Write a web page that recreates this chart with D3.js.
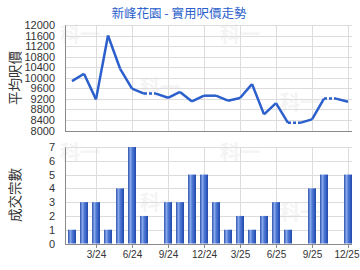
<!DOCTYPE html>
<html>
<head>
<meta charset="utf-8">
<script src="https://cdnjs.cloudflare.com/ajax/libs/d3/7.8.5/d3.min.js"></script>
<style>
  html, body { margin: 0; padding: 0; background: #fff; }
  svg { display: block; font-family: "Liberation Sans", Arial, sans-serif; }
</style>
</head>
<body>
<div id="chart"></div>
<script>
// ─── data ────────────────────────────────────────────────────────────────
const months = ["1/24","2/24","3/24","4/24","5/24","6/24","7/24","8/24","9/24","10/24","11/24","12/24",
                "1/25","2/25","3/25","4/25","5/25","6/25","7/25","8/25","9/25","10/25","11/25","12/25"];
// average price per sq ft (null = no deal that month)
const prices = [9870, 10150, 9180, 11600, 10350, 9590, 9400, null, 9240, 9460, 9100, 9320,
                9320, 9130, 9230, 9760, 8610, 9040, 8290, null, 8420, 9210, null, 9090];
const deals = [1, 3, 3, 1, 4, 7, 2, 0, 3, 3, 5, 5, 3, 1, 2, 1, 2, 3, 1, 0, 4, 5, 0, 5];
const tickMonths = ["3/24","6/24","9/24","12/24","3/25","6/25","9/25","12/25"];
const priceTicks = d3.range(8000, 12001, 400);
const dealTicks = d3.range(0, 8);

const W = 360, H = 270;
const LINE_BLUE = "#2b5fcc";
const GRID = "#dcdcdc";
const AXIS = "#8a8a8a";

const svg = d3.select("#chart").append("svg")
    .attr("width", W).attr("height", H);

const defs = svg.append("defs");
const grad = defs.append("linearGradient").attr("id", "barGrad")
    .attr("x1", "0").attr("x2", "1").attr("y1", "0").attr("y2", "0");
grad.append("stop").attr("offset", "0%").attr("stop-color", "#2a52b0");
grad.append("stop").attr("offset", "30%").attr("stop-color", "#8aa8e8");
grad.append("stop").attr("offset", "55%").attr("stop-color", "#4d78d6");
grad.append("stop").attr("offset", "100%").attr("stop-color", "#1f48a8");

const x = d3.scalePoint().domain(months).range([72, 348]);
const left = 65, right = 352;

// faint watermarks
[[80, 42], [240, 42], [80, 160], [240, 160], [160, 95], [160, 210], [300, 110], [300, 220]].forEach(([wx, wy]) => {
    svg.append("text").attr("x", wx).attr("y", wy)
        .attr("font-size", 20).attr("font-weight", "bold")
        .attr("font-family", "'Noto Sans CJK TC', sans-serif")
        .attr("fill", "#f4f4f4").attr("text-anchor", "middle").text("科一");
});

// title
svg.append("text").attr("x", 179).attr("y", 18)
    .attr("text-anchor", "middle").attr("font-size", 12.5)
    .attr("font-family", "'Noto Sans CJK TC', sans-serif")
    .attr("fill", "#2b5fcc").text("新峰花園 - 實用呎價走勢");

// ─── top: price line ────────────────────────────────────────────────────
const yP = d3.scaleLinear().domain([8000, 12000]).range([130.5, 25]);
const upper = svg.append("g");

upper.selectAll(".hgrid").data(priceTicks).join("line")
    .attr("x1", left).attr("x2", right)
    .attr("y1", d => Math.round(yP(d)) + 0.5).attr("y2", d => Math.round(yP(d)) + 0.5)
    .attr("stroke", GRID);
upper.selectAll(".vgrid").data(tickMonths).join("line")
    .attr("x1", d => Math.round(x(d)) + 0.5).attr("x2", d => Math.round(x(d)) + 0.5)
    .attr("y1", 25).attr("y2", 131)
    .attr("stroke", GRID);

upper.append("g").attr("transform", `translate(${left},0)`)
    .call(d3.axisLeft(yP).tickValues(priceTicks).tickSize(0).tickPadding(10).tickFormat(d3.format("d")))
    .call(g => g.select(".domain").attr("stroke", AXIS))
    .call(g => g.selectAll("text").attr("font-size", 11).attr("fill", "#333")
        .attr("font-family", "'Liberation Sans', Arial, sans-serif"));
upper.append("line").attr("x1", left).attr("x2", right).attr("y1", 131.5).attr("y2", 131.5)
    .attr("stroke", AXIS);

svg.append("text").attr("transform", "translate(20,78) rotate(-90)")
    .attr("text-anchor", "middle").attr("font-size", 13.5)
    .attr("font-family", "'Noto Sans CJK TC', sans-serif")
    .attr("fill", "#333").text("平均呎價");

// solid segments between consecutive months with a price;
// an empty month carries the previous price (dotted), then joins the next one
const lineG = upper.append("g").attr("fill", "none").attr("stroke", LINE_BLUE)
    .attr("stroke-width", 2.5).attr("stroke-linejoin", "round");
const line = d3.line().x(d => x(d[0])).y(d => yP(d[1]));

months.forEach((m, i) => {
    if (i === 0) return;
    const prev = months[i - 1];
    if (prices[i] != null && prices[i - 1] != null) {
        lineG.append("path").attr("d", line([[prev, prices[i - 1]], [m, prices[i]]]));
    } else if (prices[i] == null && prices[i - 1] != null) {
        lineG.append("path").attr("stroke-dasharray", "3,2")
            .attr("d", line([[prev, prices[i - 1]], [m, prices[i - 1]]]));
        if (i + 1 < months.length && prices[i + 1] != null)
            lineG.append("path").attr("d", line([[m, prices[i - 1]], [months[i + 1], prices[i + 1]]]));
    }
});

// ─── bottom: deal count bars ───────────────────────────────────────────
const yD = d3.scaleLinear().domain([0, 7]).range([243.5, 147]);
const lower = svg.append("g");

lower.selectAll(".hgrid").data(dealTicks).join("line")
    .attr("x1", left).attr("x2", right)
    .attr("y1", d => Math.round(yD(d)) + 0.5).attr("y2", d => Math.round(yD(d)) + 0.5)
    .attr("stroke", GRID);
lower.selectAll(".vgrid").data(tickMonths).join("line")
    .attr("x1", d => Math.round(x(d)) + 0.5).attr("x2", d => Math.round(x(d)) + 0.5)
    .attr("y1", 147).attr("y2", 244)
    .attr("stroke", GRID);

lower.selectAll(".bar").data(deals.map((v, i) => ({ m: months[i], v })).filter(d => d.v > 0)).join("rect")
    .attr("x", d => x(d.m) - 4).attr("width", 8)
    .attr("y", d => yD(d.v)).attr("height", d => yD(0) - yD(d.v))
    .attr("fill", "url(#barGrad)");

lower.append("g").attr("transform", `translate(${left},0)`)
    .call(d3.axisLeft(yD).tickValues(dealTicks).tickSize(0).tickPadding(10).tickFormat(d3.format("d")))
    .call(g => g.select(".domain").attr("stroke", AXIS))
    .call(g => g.selectAll("text").attr("font-size", 11).attr("fill", "#333")
        .attr("font-family", "'Liberation Sans', Arial, sans-serif"));

lower.append("g").attr("transform", "translate(0,244)")
    .call(d3.axisBottom(x).tickValues(tickMonths).tickSize(4).tickPadding(3))
    .call(g => g.select(".domain").attr("stroke", AXIS).attr("d", `M${left},0.5H${right}`))
    .call(g => g.selectAll(".tick line").attr("stroke", AXIS))
    .call(g => g.selectAll("text").attr("font-size", 10).attr("fill", "#333")
        .attr("font-family", "'Liberation Sans', Arial, sans-serif"))
    .call(g => g.selectAll(".tick").filter(d => d === "12/25").select("text")
        .attr("text-anchor", "end").attr("dx", 11));

svg.append("text").attr("transform", "translate(20,195) rotate(-90)")
    .attr("text-anchor", "middle").attr("font-size", 13.5)
    .attr("font-family", "'Noto Sans CJK TC', sans-serif")
    .attr("fill", "#333").text("成交宗數");
</script>
</body>
</html>
